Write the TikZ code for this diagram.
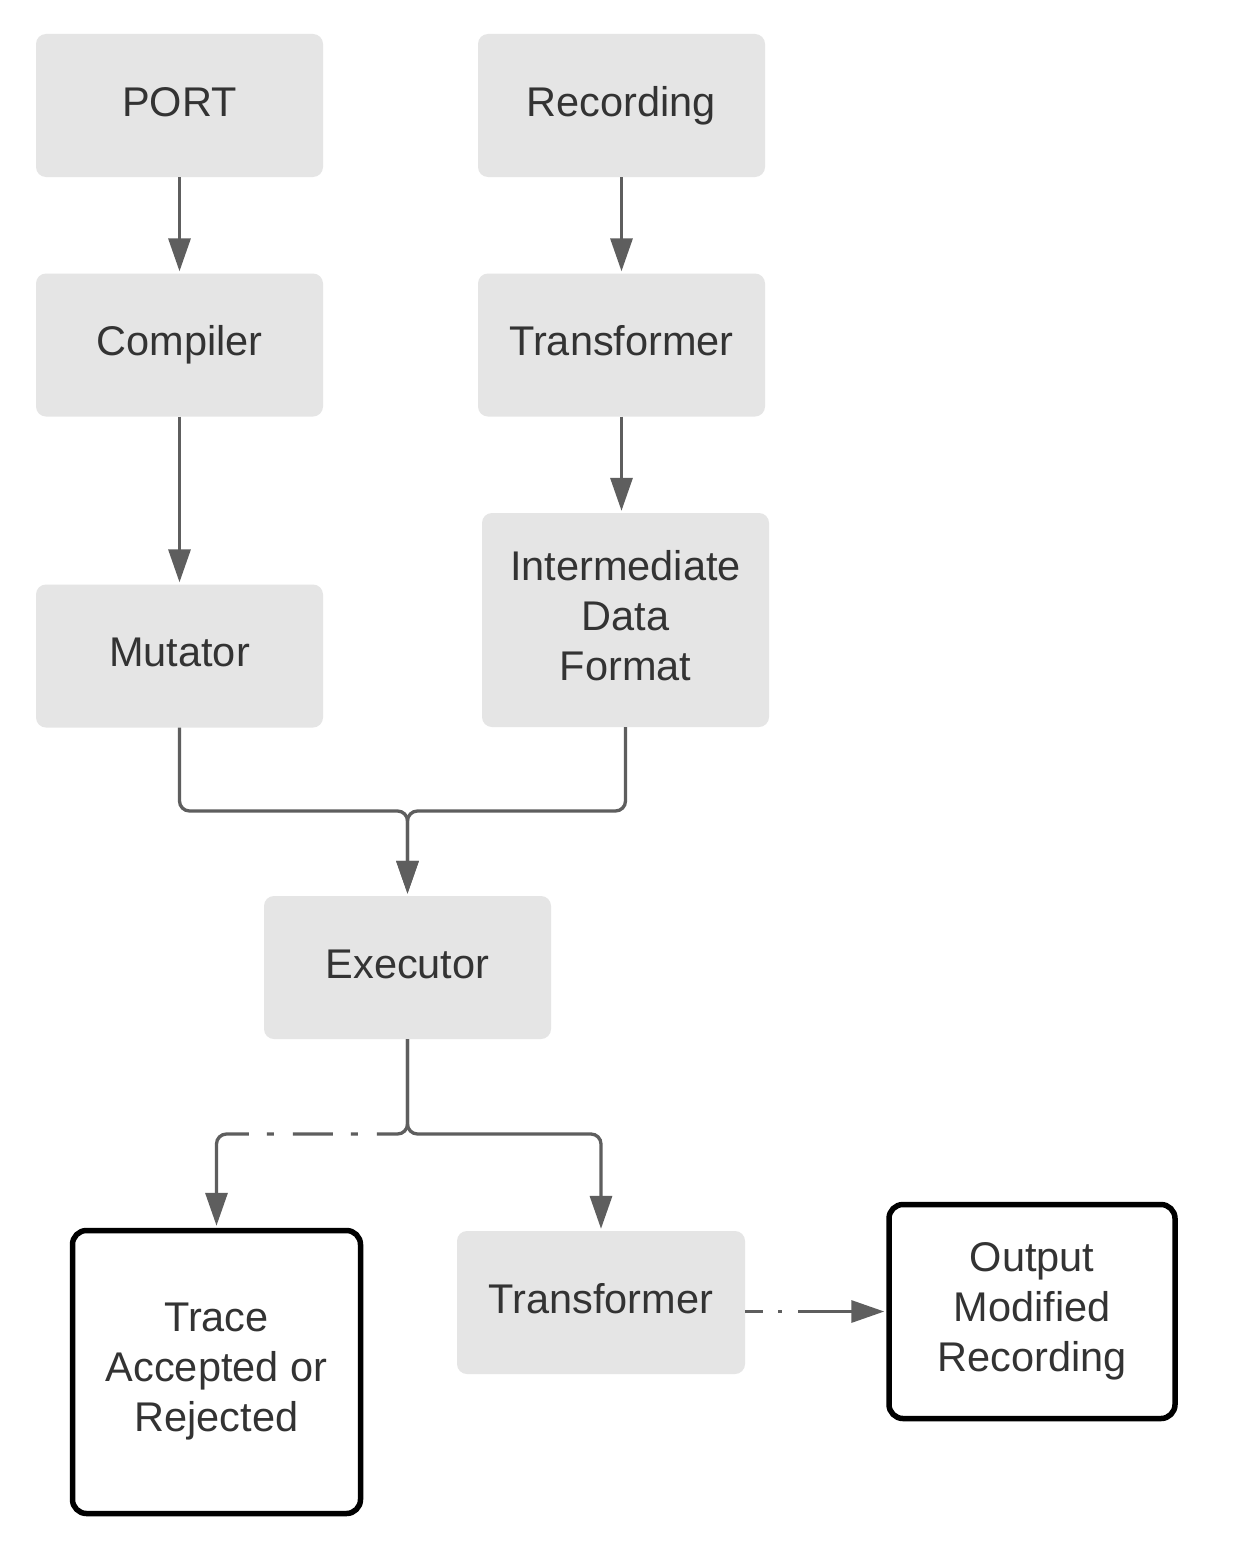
\documentclass[tikz,border=0pt]{standalone}
\usepackage{fontspec}
\setmainfont{Liberation Sans}
\usetikzlibrary{arrows.meta}
\definecolor{boxgray}{HTML}{E5E5E5}
\definecolor{linegray}{HTML}{5E5E5E}
\definecolor{txtgray}{HTML}{333333}
\tikzset{
  base/.style={rectangle, inner sep=0pt, text=txtgray, align=center,
    font=\fontsize{41.5}{50}\selectfont},
  graybox/.style={base, fill=boxgray, rounded corners=10pt,
    minimum width=287pt, minimum height=143pt},
  outbox/.style={base, draw=black, line width=5.5pt, fill=white, rounded corners=14pt},
  oneline/.style={text height=30pt, text depth=8.8pt},
  conn/.style={draw=linegray, line width=3.3pt, rounded corners=10pt,
    -{Triangle[length=33pt,width=22pt]}, shorten >=2pt},
}
\begin{document}
\begin{tikzpicture}[x=1pt,y=-1pt]
\useasboundingbox[fill=white] (0,0) rectangle (1253,1560);

\node[graybox, oneline] (port) at (179.5,105.5) {PORT};
\node[graybox, oneline] (rec) at (621.5,105.5) {Recording};
\node[graybox, oneline] (comp) at (179.5,345) {Compiler};
\node[graybox, oneline] (tr1) at (621.5,345) {Transformer};
\node[graybox, oneline] (mut) at (179.5,656) {Mutator};
\node[graybox, minimum height=214pt] (imd) at (625.5,620) {Intermediate\\Data\\Format\vphantom{g}};
\node[graybox, oneline] (exe) at (407.5,967.5) {Executor};
\node[graybox, oneline, minimum width=288pt] (tr2) at (601,1302.5) {Transformer};
\node[outbox, minimum width=288pt, minimum height=283pt] (trace) at (216.5,1372) {Trace\\Accepted or\\Rejected};
\node[outbox, minimum width=286pt, minimum height=214pt] (out) at (1032,1311.5) {Output\\Modified\\Recording};

\coordinate (j1) at (407.5,811);
\coordinate (j2) at (407.5,1134);

\draw[conn] (port.south) -- (comp.north);
\draw[conn] (rec.south) -- (tr1.north);
\draw[conn] (comp.south) -- (mut.north);
\draw[conn] (tr1.south) -- (tr1.south |- imd.north);
\draw[conn] (mut.south) |- (j1) -- (exe.north);
\draw[conn] (imd.south) |- (j1) -- (exe.north);
\draw[conn] (exe.south) -- (j2) -| (tr2.north);
\draw[conn, dash pattern=on 121pt off 19pt on 7pt off 18pt on 40pt off 19pt on 7pt off 18pt on 1000pt]
  (exe.south) -- (j2) -| (trace.north);
\draw[conn, dash pattern=on 18pt off 15pt on 4pt off 16pt on 1000pt]
  (tr2.east |- out.west) -- (out.west);
\end{tikzpicture}
\end{document}
